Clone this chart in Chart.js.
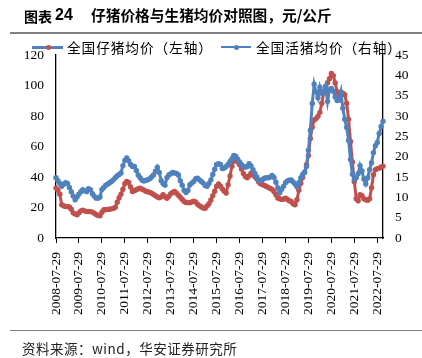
<!DOCTYPE html>
<html>
<head>
<meta charset="utf-8">
<script src="https://cdn.jsdelivr.net/npm/chart.js@4.4.1/dist/chart.umd.min.js"></script>
<style>
  body { margin: 0; background: #fff; }
  #page { position: relative; width: 422px; height: 358px; overflow: hidden; font-family: "Noto Sans CJK SC", sans-serif; color: #000; }
  #chart { position: absolute; left: 0; top: 0; }
  .title { position: absolute; top: 5px; font-size: 14.7px; line-height: 20px; font-weight: bold; white-space: nowrap; }
  .title.num { font-family: "Liberation Sans", Arial, sans-serif; font-size: 16px; }
  .rule { position: absolute; left: 10px; width: 412px; height: 1.5px; background: #808080; }
  .lg-line { position: absolute; background: #4F81BD; }
  .lg-dot { position: absolute; width: 5px; height: 5px; border-radius: 50%; }
  .lg-text { position: absolute; top: 38px; font-size: 13.7px; line-height: 18px; letter-spacing: 0.9px; white-space: nowrap; }
  .source { position: absolute; left: 22px; top: 339px; font-size: 13.5px; line-height: 18px; letter-spacing: 0.5px; color: #222; white-space: nowrap; }
</style>
</head>
<body>
<div id="page">
  <canvas id="chart" width="422" height="358"></canvas>
  <div class="title" style="left:24px; font-size:14px; top:5.5px;">图表</div>
  <div class="title num" style="left:55px;">24</div>
  <div class="title" style="left:91px;">仔猪价格与生猪均价对照图，元/公斤</div>
  <div class="rule" style="top:32.3px"></div>

  <!-- 图例 -->
  <div class="lg-line" style="left:32px; top:45.5px; width:31px; height:3px;"></div>
  <div class="lg-dot" style="left:45.5px; top:44.5px; background:#C0504D;"></div>
  <div class="lg-text" style="left:67px;">全国仔猪均价（左轴）</div>
  <div class="lg-line" style="left:221px; top:46px; width:30px; height:2px;"></div>
  <div class="lg-dot" style="left:233.5px; top:44.5px; background:#4F81BD;"></div>
  <div class="lg-text" style="left:256px;">全国活猪均价（右轴）</div>

  <div class="rule" style="top:329.5px"></div>
  <div class="source">资料来源：wind，华安证券研究所</div>
</div>
<script>
// 月度数据：2008-07 至 2022-10
const startYear = 2008;
const startMonth = 7;
const pointCount = 172;

const tickLabels = ['2008-07-29', '2009-07-29', '2010-07-29', '2011-07-29', '2012-07-29',
    '2013-07-29', '2014-07-29', '2015-07-29', '2016-07-29', '2017-07-29',
    '2018-07-29', '2019-07-29', '2020-07-29', '2021-07-29', '2022-07-29'];

// 全国仔猪均价（左轴），元/公斤
const pigletPrice = [
    32.8, 31.4, 28.7, 21.8, 21.1, 20.6, 20.6, 20.4, 18.9, 16.5, 15.8, 15.2,
    16.5, 17.8, 18.2, 17.8, 17.3, 17.3, 17.3, 17.0, 16.2, 15.4, 14.8, 14.6,
    16.9, 18.5, 18.6, 18.8, 18.9, 19.1, 19.4, 20.2, 23.4, 26.4, 28.8, 32.0,
    35.6, 37.1, 36.4, 33.4, 30.5, 31.1, 31.6, 32.3, 32.6, 32.0, 31.4, 30.7,
    30.3, 29.9, 29.4, 28.6, 27.7, 26.9, 26.4, 27.0, 28.4, 27.0, 26.0, 27.4,
    29.0, 29.9, 30.5, 29.4, 28.1, 26.8, 25.3, 23.9, 23.3, 23.2, 23.1, 23.6,
    24.1, 23.7, 22.2, 21.2, 20.4, 19.6, 19.5, 21.0, 22.5, 24.9, 27.8, 30.7,
    34.0, 35.5, 34.0, 32.1, 30.7, 29.5, 34.9, 40.7, 47.0, 50.6, 51.3, 49.8,
    48.1, 45.2, 42.3, 40.3, 39.5, 40.8, 42.5, 41.5, 40.2, 38.9, 36.8, 35.6,
    35.1, 34.5, 33.8, 33.2, 32.5, 31.9, 30.4, 28.4, 26.2, 25.7, 25.3, 25.5,
    26.1, 25.3, 24.4, 23.9, 22.5, 21.8, 25.1, 31.3, 35.9, 39.6, 43.2, 48.1,
    54.1, 65.3, 72.7, 77.3, 78.3, 79.8, 82.4, 88.4, 95.3, 99.2, 101.8, 104.5,
    107.9, 106.5, 101.7, 95.9, 93.3, 94.6, 94.9, 94.0, 88.4, 77.8, 63.3, 49.8,
    36.9, 25.7, 24.4, 28.4, 27.7, 25.7, 25.1, 24.7, 25.7, 33.0, 41.5, 44.8,
    45.5, 45.8, 46.6, 47.1
];

// 全国活猪均价（右轴），元/公斤
const hogPrice = [
    14.8, 14.1, 13.4, 12.7, 13.2, 13.6, 13.4, 12.4, 11.4, 10.3, 9.4, 10.1,
    10.8, 11.4, 11.9, 11.6, 11.4, 12.1, 11.9, 10.9, 10.3, 9.8, 9.8, 10.1,
    11.9, 12.4, 13.0, 13.2, 13.6, 13.9, 14.3, 14.8, 15.3, 15.6, 16.0, 17.8,
    19.1, 19.7, 19.0, 18.1, 17.6, 17.6, 16.6, 15.5, 14.8, 14.2, 14.0, 14.2,
    14.3, 14.6, 15.0, 15.5, 16.4, 17.4, 16.1, 14.1, 13.4, 13.0, 14.8, 15.5,
    15.8, 16.1, 16.0, 15.9, 15.5, 14.1, 13.0, 11.7, 11.2, 11.7, 13.1, 13.5,
    13.9, 14.6, 14.7, 14.3, 13.9, 13.5, 12.9, 12.7, 13.4, 14.3, 15.6, 16.9,
    18.1, 18.3, 18.1, 17.1, 17.2, 17.6, 18.1, 18.8, 19.5, 20.3, 20.1, 19.4,
    18.7, 18.1, 17.6, 17.4, 17.6, 18.3, 17.7, 16.8, 15.9, 15.0, 14.2, 14.1,
    14.4, 14.7, 14.8, 14.8, 15.0, 15.4, 14.9, 13.7, 12.3, 11.1, 12.0, 12.7,
    13.6, 14.0, 14.2, 14.3, 13.8, 13.3, 12.6, 13.6, 14.8, 15.6, 16.1, 17.6,
    21.6, 26.5, 33.1, 37.8, 35.9, 34.5, 37.1, 35.6, 36.1, 37.3, 33.6, 36.4,
    36.8, 36.1, 34.7, 33.8, 33.9, 35.9, 31.9, 29.2, 27.2, 24.0, 19.3, 15.7,
    14.4, 14.8, 15.8, 17.8, 16.5, 14.5, 13.3, 14.8, 16.8, 18.5, 21.0, 22.7,
    23.5, 25.7, 27.4, 28.7
];

const RED = '#C0504D';
const BLUE = '#4F81BD';

const months = [];
for (let i = 0; i < pointCount; i++) {
    const m = startMonth - 1 + i;
    const y = startYear + Math.floor(m / 12);
    const mm = String(m % 12 + 1).padStart(2, '0');
    months.push(y + '-' + mm + '-29');
}

const tickFont = { family: "'Liberation Serif', 'Times New Roman', Times, serif", size: 13.5 };

function seriesStyle(color) {
    return {
        borderColor: color,
        backgroundColor: color,
        borderWidth: 3,
        pointRadius: 2.7,
        pointBorderWidth: 0,
        pointBackgroundColor: color
    };
}

new Chart(document.getElementById('chart'), {
    type: 'line',
    data: {
        labels: months,
        datasets: [
            Object.assign({ label: '全国活猪均价（右轴）', data: hogPrice, yAxisID: 'yRight', order: 0 }, seriesStyle(BLUE)),
            Object.assign({ label: '全国仔猪均价（左轴）', data: pigletPrice, yAxisID: 'yLeft', order: 1 }, seriesStyle(RED))
        ]
    },
    options: {
        responsive: false,
        animation: false,
        layout: { padding: { top: 55, left: 0, right: 0, bottom: 0 } },
        plugins: {
            legend: { display: false },
            tooltip: { enabled: false }
        },
        scales: {
            x: {
                type: 'category',
                grid: { display: true, drawOnChartArea: false, drawTicks: true, tickLength: 5, color: '#000', lineWidth: 1 },
                border: { display: true, color: '#000', width: 1.3 },
                ticks: {
                    autoSkip: false,
                    minRotation: 90,
                    maxRotation: 90,
                    padding: 9,
                    color: '#000',
                    font: tickFont
                },
                afterBuildTicks(scale) {
                    scale.ticks = scale.ticks.filter(t => tickLabels.includes(months[t.value]));
                },
                afterFit(scale) { scale.height = 120; }
            },
            yLeft: {
                position: 'left',
                min: 0,
                max: 120,
                grid: { display: false, drawTicks: false },
                border: { display: true, color: '#000', width: 1.3 },
                ticks: { stepSize: 20, padding: 12, color: '#000', font: tickFont },
                afterFit(scale) { scale.width = 56; }
            },
            yRight: {
                position: 'right',
                min: 0,
                max: 45,
                grid: { display: false, drawTicks: false },
                border: { display: true, color: '#000', width: 1.3 },
                ticks: { stepSize: 5, padding: 12, color: '#000', font: tickFont },
                afterFit(scale) { scale.width = 39; }
            }
        }
    }
});
</script>
</body>
</html>
